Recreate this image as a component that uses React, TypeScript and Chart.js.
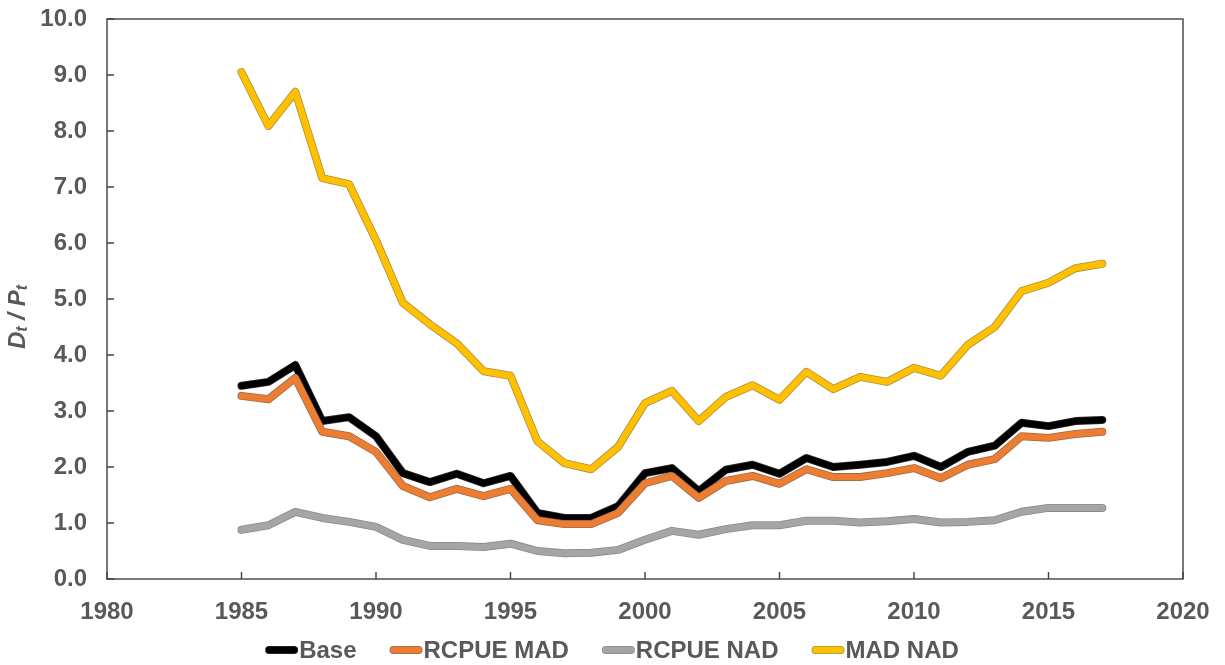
import React, { useEffect, useRef } from "react";
import { Chart, registerables } from "chart.js";

Chart.register(...registerables);

const years = [1985,1986,1987,1988,1989,1990,1991,1992,1993,1994,1995,1996,1997,1998,1999,2000,2001,2002,2003,2004,2005,2006,2007,2008,2009,2010,2011,2012,2013,2014,2015,2016,2017];

const base = [3.45,3.52,3.82,2.82,2.89,2.55,1.89,1.73,1.88,1.71,1.84,1.18,1.09,1.09,1.30,1.89,1.98,1.57,1.95,2.04,1.88,2.16,2.00,2.04,2.09,2.20,2.00,2.27,2.38,2.79,2.73,2.82,2.84];
const rcpueMad = [3.27,3.21,3.59,2.63,2.55,2.27,1.66,1.46,1.61,1.48,1.61,1.05,0.98,0.98,1.18,1.71,1.84,1.45,1.75,1.84,1.70,1.96,1.82,1.82,1.89,1.98,1.80,2.04,2.14,2.55,2.52,2.59,2.63];
const rcpueNad = [0.88,0.96,1.20,1.09,1.02,0.93,0.70,0.59,0.59,0.57,0.63,0.50,0.46,0.47,0.52,0.70,0.86,0.79,0.89,0.96,0.96,1.04,1.04,1.01,1.03,1.07,1.01,1.02,1.05,1.20,1.27,1.27,1.27];
const madNad = [9.05,8.09,8.70,7.16,7.05,6.05,4.93,4.55,4.21,3.71,3.63,2.46,2.07,1.96,2.36,3.14,3.36,2.82,3.25,3.46,3.20,3.70,3.39,3.61,3.52,3.77,3.63,4.18,4.50,5.14,5.29,5.55,5.63];

const seriesNames = ["Base", "RCPUE MAD", "RCPUE NAD", "MAD NAD"];
const seriesColors = ["#000000", "#ED7D31", "#A5A5A5", "#FFC000"];
const outlineColors = ["#2a2a2a", "#9a6a4a", "#8a8a8a", "#a89040"];

const xTicks = [1980, 1985, 1990, 1995, 2000, 2005, 2010, 2015, 2020];
const yTicks = [0, 1, 2, 3, 4, 5, 6, 7, 8, 9, 10];

const TEXT = "#595959";
const FONT = "'Liberation Sans', Arial, sans-serif";

const outlinePlugin = {
  id: "outline",
  beforeDatasetDraw(chart: any, args: any) {
    const meta = args.meta;
    const ds = chart.data.datasets[args.index];
    const pts = meta.data;
    if (!pts || pts.length < 2) return;
    const ctx = chart.ctx;
    ctx.save();
    ctx.beginPath();
    ctx.moveTo(pts[0].x, pts[0].y);
    for (let i = 1; i < pts.length; i++) ctx.lineTo(pts[i].x, pts[i].y);
    ctx.lineWidth = (ds.borderWidth || 6) + 1.6;
    ctx.strokeStyle = ds.outlineColor;
    ctx.lineJoin = "round";
    ctx.lineCap = "round";
    ctx.stroke();
    ctx.restore();
  },
};

const framePlugin = {
  id: "frame",
  afterDraw(chart: any) {
    const ctx = chart.ctx;
    const a = chart.chartArea;
    const xs = chart.scales.x;
    const ys = chart.scales.y;
    ctx.save();
    ctx.strokeStyle = "#404040";
    ctx.lineWidth = 1.4;
    ctx.strokeRect(a.left, a.top, a.right - a.left, a.bottom - a.top);
    ctx.beginPath();
    for (const t of xTicks) {
      const px = xs.getPixelForValue(t);
      ctx.moveTo(px, a.bottom);
      ctx.lineTo(px, a.bottom - 7);
    }
    for (const t of yTicks) {
      const py = ys.getPixelForValue(t);
      ctx.moveTo(a.left, py);
      ctx.lineTo(a.left + 7, py);
    }
    ctx.stroke();

    // Y axis title: D_t / P_t
    ctx.fillStyle = TEXT;
    const big = `italic bold 24px ${FONT}`;
    const small = `italic bold 16px ${FONT}`;
    const parts = [
      { t: "D", f: big, dy: 0 },
      { t: "t", f: small, dy: 5 },
      { t: " / ", f: big, dy: 0 },
      { t: "P", f: big, dy: 0 },
      { t: "t", f: small, dy: 5 },
    ];
    let total = 0;
    for (const p of parts) {
      ctx.font = p.f;
      total += ctx.measureText(p.t).width;
    }
    ctx.translate(18, 317);
    ctx.rotate(-Math.PI / 2);
    let x = -total / 2;
    ctx.textBaseline = "middle";
    ctx.textAlign = "left";
    for (const p of parts) {
      ctx.font = p.f;
      ctx.fillText(p.t, x, p.dy);
      x += ctx.measureText(p.t).width;
    }
    ctx.restore();

    // Legend
    ctx.save();
    ctx.font = `bold 24px ${FONT}`;
    ctx.textBaseline = "middle";
    ctx.textAlign = "left";
    const sw = 31, gapText = 2, gapItem = 34;
    let w = 0;
    seriesNames.forEach((n, i) => {
      w += sw + gapText + ctx.measureText(n).width;
      if (i < seriesNames.length - 1) w += gapItem;
    });
    let lx = (chart.width - w) / 2;
    const ly = 650;
    seriesNames.forEach((n, i) => {
      ctx.lineCap = "round";
      ctx.beginPath();
      ctx.moveTo(lx + 3, ly);
      ctx.lineTo(lx + sw - 3, ly);
      ctx.lineWidth = 8;
      ctx.strokeStyle = outlineColors[i];
      ctx.stroke();
      ctx.lineWidth = 6.4;
      ctx.strokeStyle = seriesColors[i];
      ctx.stroke();
      ctx.fillStyle = TEXT;
      ctx.fillText(n, lx + sw + gapText, ly + 1);
      lx += sw + gapText + ctx.measureText(n).width + gapItem;
    });
    ctx.restore();
  },
};

export default function App() {
  const ref = useRef<HTMLCanvasElement | null>(null);
  useEffect(() => {
    document.body.style.margin = "0";
    const series = [base, rcpueMad, rcpueNad, madNad];
    const chart = new Chart(ref.current as HTMLCanvasElement, {
      type: "line",
      data: {
        datasets: series.map((s, i) => ({
          label: seriesNames[i],
          data: years.map((yr, j) => ({ x: yr, y: s[j] })),
          borderColor: seriesColors[i],
          backgroundColor: seriesColors[i],
          outlineColor: outlineColors[i],
          borderWidth: 6.4,
          pointRadius: 0,
          borderJoinStyle: "round",
          borderCapStyle: "round",
          tension: 0,
          order: 3 - i,
        })) as any,
      },
      options: {
        responsive: false,
        animation: false,
        layout: { padding: { top: 19, right: 42, bottom: 0, left: 0 } },
        plugins: {
          legend: { display: false },
          tooltip: { enabled: false },
        },
        scales: {
          x: {
            type: "linear",
            min: 1980,
            max: 2020,
            afterBuildTicks: (s: any) => {
              s.ticks = xTicks.map((v) => ({ value: v }));
            },
            afterFit: (s: any) => {
              s.height = 86;
              s.paddingLeft = 0;
              s.paddingRight = 0;
            },
            grid: { display: false, drawTicks: false },
            border: { display: false },
            ticks: {
              padding: 19,
              color: TEXT,
              font: { family: FONT, size: 24, weight: "bold" },
              callback: (v: any) => String(v),
              maxRotation: 0,
            },
          },
          y: {
            min: 0,
            max: 10,
            afterBuildTicks: (s: any) => {
              s.ticks = yTicks.map((v) => ({ value: v }));
            },
            afterFit: (s: any) => {
              s.width = 107;
              s.paddingTop = 0;
              s.paddingBottom = 0;
            },
            grid: { display: false, drawTicks: false },
            border: { display: false },
            ticks: {
              padding: 20,
              color: TEXT,
              font: { family: FONT, size: 24, weight: "bold" },
              callback: (v: any) => Number(v).toFixed(1),
            },
          },
        },
      },
      plugins: [outlinePlugin, framePlugin],
    } as any);
    return () => chart.destroy();
  }, []);
  return (
    <div style={{ width: 1225, height: 665 }}>
      <canvas ref={ref} width={1225} height={665} />
    </div>
  );
}
